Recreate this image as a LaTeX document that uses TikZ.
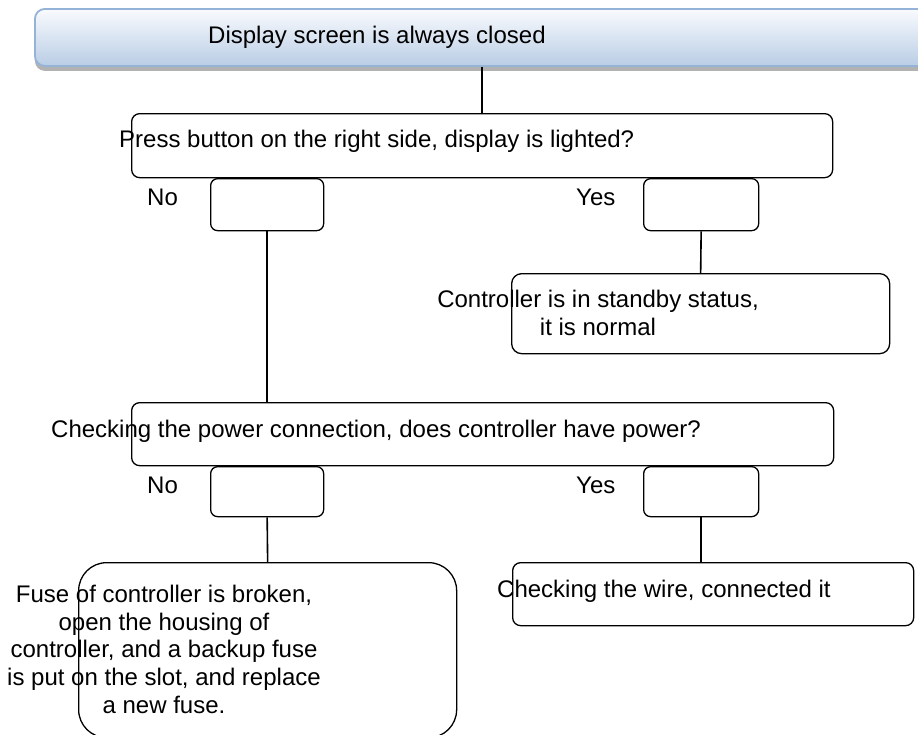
\documentclass[tikz,border=0pt]{standalone}
\usepackage{fontspec}
\setmainfont{Liberation Sans}
\usetikzlibrary{positioning, shadows}
\definecolor{bannertop}{HTML}{F9FBFE}
\definecolor{bannerbot}{HTML}{B9CDE5}
\definecolor{bannerline}{HTML}{95B3D7}
\tikzset{
    banner/.style={rectangle, draw=bannerline, line width=1.8pt, rounded corners=10pt, top color=bannertop, bottom color=bannerbot, drop shadow={shadow xshift=0pt, shadow yshift=-5pt, fill=gray!60, opacity=1}},
    question/.style={rectangle, draw, line width=1.3pt, rounded corners=8pt, fill=white},
    smallbox/.style={rectangle, draw, line width=1.3pt, rounded corners=7pt, fill=white},
    answer/.style={rectangle, draw, line width=1.3pt, rounded corners=10pt, fill=white},
    txt/.style={inner sep=0pt, anchor=base west},
    link/.style={line width=1.6pt}
}
\begin{document}
\begin{tikzpicture}[x=1pt, y=-1pt, every node/.style={font=\fontsize{24}{27.6}\selectfont}]
    \useasboundingbox (0,0) rectangle (918,734);

    % Boxes
    \node (banner) [banner, minimum width=906pt, minimum height=57pt, anchor=north west] at (34,8) {};
    \node (press) [question, minimum width=701pt, minimum height=64pt, anchor=north west] at (131,113) {};
    \node (no1) [smallbox, minimum width=113pt, minimum height=52pt, anchor=north west] at (210,178) {};
    \node (yes1) [smallbox, minimum width=115pt, minimum height=52pt, anchor=north west] at (643,178) {};
    \node (standby) [answer, minimum width=378pt, minimum height=80pt, anchor=north west] at (511,273) {};
    \node (power) [question, minimum width=702pt, minimum height=63pt, anchor=north west] at (131,402) {};
    \node (no2) [smallbox, minimum width=113pt, minimum height=50pt, anchor=north west] at (210,466) {};
    \node (yes2) [smallbox, minimum width=115pt, minimum height=50pt, anchor=north west] at (643,466) {};
    \node (fuse) [answer, rounded corners=28pt, minimum width=378pt, minimum height=175pt, anchor=north west] at (78,562) {};
    \node (wire) [question, minimum width=401pt, minimum height=63pt, anchor=north west] at (512,562) {};

    % Texts
    \node (bannertxt) [txt] at (208,43) {Display screen is always closed};
    \node (presstxt) [txt] at (119,147) {Press button on the right side, display is lighted?};
    \node (notxt1) [txt] at (147,205) {No};
    \node (yestxt1) [txt] at (576,205) {Yes};
    \node (standbytxt) [inner sep=0pt, anchor=base, align=center] at (598,335) {Controller is in standby status,\\it is normal};
    \node (powertxt) [txt] at (51,437) {Checking the power connection, does controller have power?};
    \node (notxt2) [txt] at (147,493) {No};
    \node (yestxt2) [txt] at (576,493) {Yes};
    \node (fusetxt) [inner sep=0pt, anchor=base, align=center] at (164,713) {Fuse of controller is broken,\\open the housing of\\controller, and a backup fuse\\is put on the slot, and replace\\a new fuse.};
    \node (wiretxt) [txt] at (497,597) {Checking the wire, connected it};

    % Connections
    \draw [link] (press.north |- banner.south) -- (press.north);
    \draw [link] (no1.south) -- (no1.south |- power.north);
    \draw [link] (yes1.south) -- (standby.north);
    \draw [link] (no2.south) -- (fuse.north);
    \draw [link] (yes2.south) -- (yes2.south |- wire.north);
\end{tikzpicture}
\end{document}
